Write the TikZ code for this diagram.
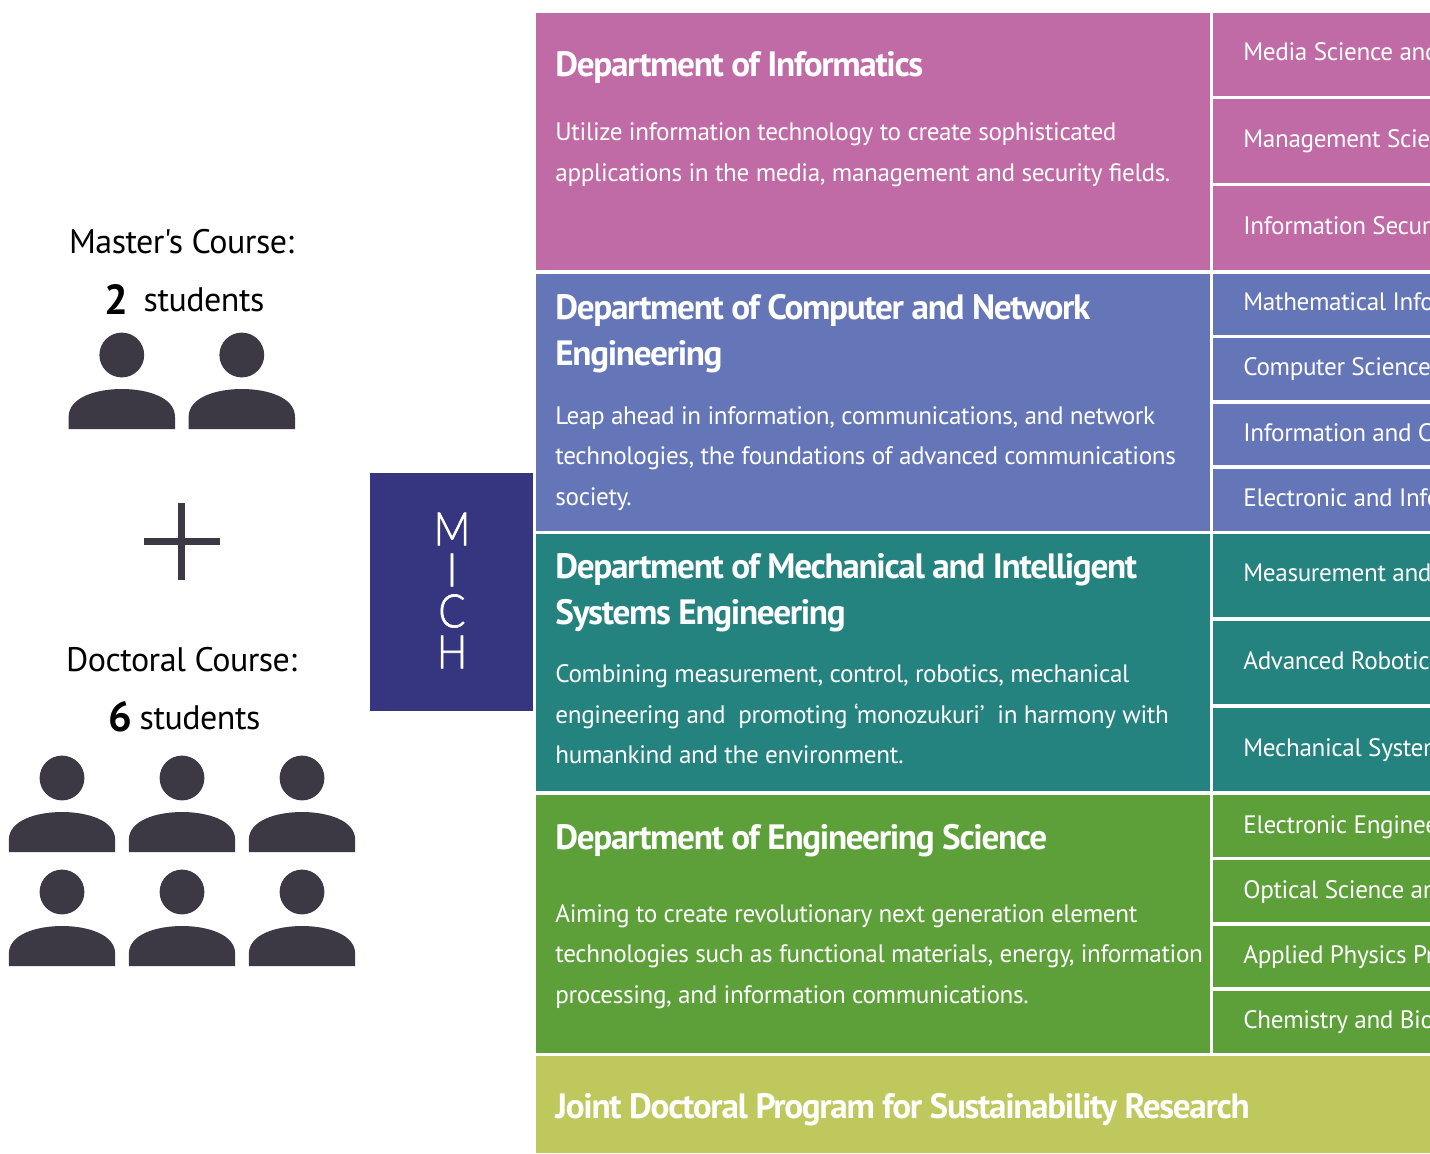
\documentclass[tikz,border=0pt]{standalone}
\usepackage{fontspec}
\setmainfont{PT Sans}
\newfontfamily\bodyf{PT Sans}[LetterSpace=-1.5]
\newfontfamily\titlef{PT Sans}[LetterSpace=-3.8]
\newfontfamily\lightf{Lato Light}[FakeStretch=0.87,FakeBold=1.4]
\definecolor{cpink}{HTML}{C06BA5}
\definecolor{cblue}{HTML}{6576B8}
\definecolor{cteal}{HTML}{25837F}
\definecolor{cgreen}{HTML}{5DA039}
\definecolor{colive}{HTML}{BFC85C}
\definecolor{cnavy}{HTML}{36357F}
\definecolor{cdark}{HTML}{3C3944}
\tikzset{
  ttl/.style={anchor=base west,inner sep=0,text=white,font=\titlef\bfseries\fontsize{17.6}{20}\selectfont},
  bdy/.style={anchor=base west,inner sep=0,text=white,font=\bodyf\fontsize{12.6}{15}\selectfont},
  lab/.style={anchor=base west,inner sep=0,text=white,font=\bodyf\fontsize{12.6}{15}\selectfont},
  crs/.style={anchor=base,inner sep=0,text=black,font=\bodyf\fontsize{17}{20}\selectfont},
  num/.style={anchor=base,inner sep=0,text=black,font=\bfseries\fontsize{21}{24}\selectfont},
  mich/.style={anchor=center,inner sep=0,align=center,text=white,font=\lightf\fontsize{23}{20.5}\selectfont},
  person/.pic={
    \fill[cdark] (0,0) circle[radius=22.4];
    \fill[cdark] (-53.2,74) -- (-53.2,62) .. controls (-53.2,42) and (-25,34) .. (0,34)
      .. controls (25,34) and (53.2,42) .. (53.2,62) -- (53.2,74) -- cycle;
  }
}
\begin{document}
\begin{tikzpicture}[x=0.5pt,y=-0.5pt]
\clip (0,0) rectangle (1430,1153);
\fill[white] (0,0) rectangle (1430,1153);
% left column
\fill[cpink] (536,13) rectangle (1210,270);
\fill[cblue] (536,274) rectangle (1210,531);
\fill[cteal] (536,534) rectangle (1210,791);
\fill[cgreen] (536,795) rectangle (1210,1053);
\fill[colive] (536,1056) rectangle (1430,1153);
% right cells
\fill[cpink] (1213,13) rectangle (1430,96);
\fill[cpink] (1213,99) rectangle (1430,183);
\fill[cpink] (1213,186) rectangle (1430,270);
\fill[cblue] (1213,274) rectangle (1430,335);
\fill[cblue] (1213,338) rectangle (1430,400);
\fill[cblue] (1213,404) rectangle (1430,465);
\fill[cblue] (1213,469) rectangle (1430,531);
\fill[cteal] (1213,534) rectangle (1430,617);
\fill[cteal] (1213,621) rectangle (1430,704);
\fill[cteal] (1213,708) rectangle (1430,791);
\fill[cgreen] (1213,795) rectangle (1430,857);
\fill[cgreen] (1213,860) rectangle (1430,922);
\fill[cgreen] (1213,926) rectangle (1430,987);
\fill[cgreen] (1213,991) rectangle (1430,1053);
% MICH
\fill[cnavy] (370,473) rectangle (533,711);
\node[mich] (m) at (452,590.5) {M\\I\\C\\H};
% titles and bodies
\node[ttl] (t1) at (555,76) {Department of Informatics};
\node[bdy] (b11) at (555,140) {Utilize information technology to create sophisticated};
\node[bdy] (b12) at (555,181) {applications in the media, management and security fields.};
\node[ttl] (t21) at (555,319) {Department of Computer and Network};
\node[ttl] (t22) at (555,365) {Engineering};
\node[bdy] (b21) at (555,424) {Leap ahead in information, communications, and network};
\node[bdy] (b22) at (555,464) {technologies, the foundations of advanced communications};
\node[bdy] (b23) at (555,505) {society.};
\node[ttl] (t31) at (555,578) {Department of Mechanical and Intelligent};
\node[ttl] (t32) at (555,624) {Systems Engineering};
\node[bdy] (b31) at (555,682) {Combining measurement, control, robotics, mechanical};
\node[bdy] (b32) at (555,723) {engineering and\ \ promoting ‘monozukuri’\ \ in harmony with};
\node[bdy] (b33) at (555,763.5) {humankind and the environment.};
\node[ttl] (t4) at (555,849) {Department of Engineering Science};
\node[bdy] (b41) at (555,922) {Aiming to create revolutionary next generation element};
\node[bdy] (b42) at (555,962.5) {technologies such as functional materials, energy, information};
\node[bdy] (b43) at (555,1003) {processing, and information communications.};
\node[ttl] (t5) at (555,1118) {Joint Doctoral Program for Sustainability Research};
% right labels
\node[lab] (l1) at (1243,60) {Media Science and};
\node[lab] (l2) at (1243,147) {Management Science};
\node[lab] (l3) at (1243,234) {Information Security};
\node[lab] (l4) at (1243,310.5) {Mathematical Info};
\node[lab] (l5) at (1243,375) {Computer Science};
\node[lab] (l6) at (1243,441) {Information and C};
\node[lab] (l7) at (1243,506) {Electronic and Info};
\node[lab] (l8) at (1243,581) {Measurement and};
\node[lab] (l9) at (1243,669) {Advanced Robotics};
\node[lab] (l10) at (1243,756) {Mechanical Systems};
\node[lab] (l11) at (1243,833) {Electronic Engineering};
\node[lab] (l12) at (1243,898) {Optical Science and};
\node[lab] (l13) at (1243,963) {Applied Physics Pr};
\node[lab] (l14) at (1243,1028) {Chemistry and Bio};
% students
\node[crs] (mc) at (181.5,253.5) {Master's Course:};
\node[num] (mn) at (116.5,314.5) {2};
\node[crs] (ms) at (204,311) {students};
\node[crs] (dc) at (181.5,671.5) {Doctoral Course:};
\node[num] (dn) at (120.5,731.5) {6};
\node[crs] (ds) at (200,729) {students};
\pic at (121.8,355) {person};
\pic at (241.8,355) {person};
\pic at (62,778) {person};
\pic at (182,778) {person};
\pic at (302,778) {person};
\pic at (62,892) {person};
\pic at (182,892) {person};
\pic at (302,892) {person};
% plus
\fill[cdark] (178.3,503) rectangle (185.3,580);
\fill[cdark] (144,538.4) rectangle (220,545);
\end{tikzpicture}
\end{document}
